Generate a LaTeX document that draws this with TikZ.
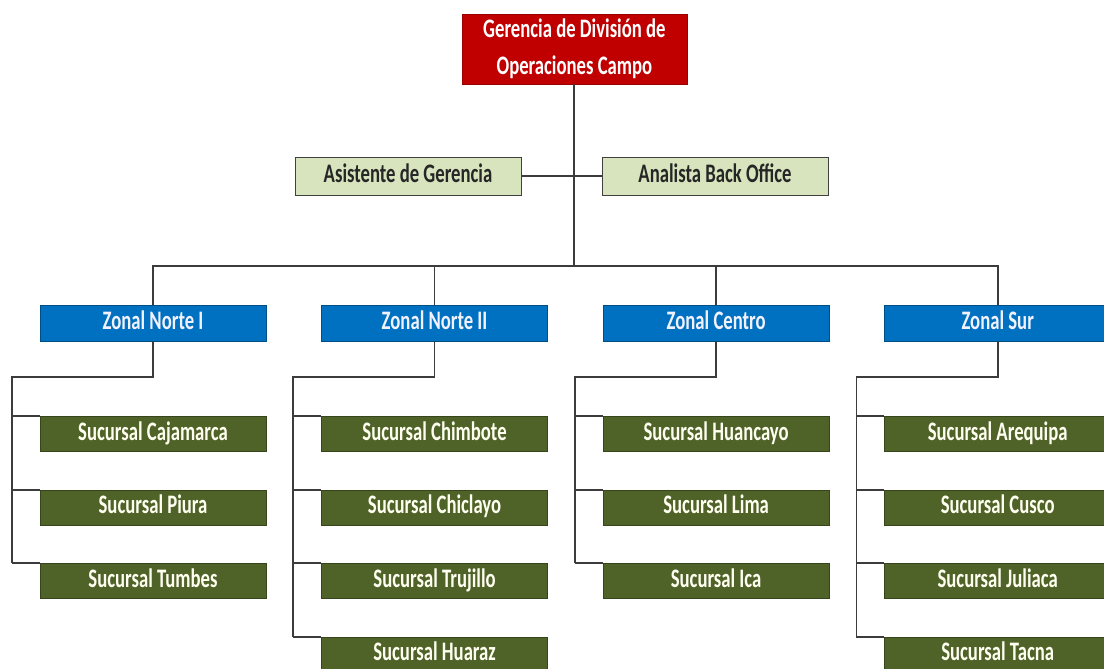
\documentclass[tikz,border=0pt]{standalone}
\usepackage{fontspec}
\setmainfont[FakeStretch=0.7]{Carlito}
\usetikzlibrary{positioning}
\definecolor{rojoger}{HTML}{C00000}
\definecolor{verdeclaro}{HTML}{D7E4BD}
\definecolor{azulzona}{HTML}{0070C0}
\definecolor{verdesuc}{HTML}{4F6228}
\definecolor{linea}{HTML}{3C3C3C}
\tikzstyle{gerencia} = [rectangle, minimum width=5.625cm, minimum height=1.75cm, align=center, text centered, draw=rojoger!80!black, fill=rojoger, text=white, font=\fontsize{19}{26}\selectfont\bfseries]
\tikzstyle{apoyo} = [rectangle, minimum width=5.65cm, minimum height=0.95cm, text centered, draw=black!75, fill=verdeclaro, text=black!85, text height=1.9ex, text depth=0.1ex]
\tikzstyle{zonal} = [rectangle, minimum width=5.65cm, minimum height=0.9cm, text centered, draw=azulzona!70!black, fill=azulzona, text=blue!5, text height=1.9ex, text depth=0.1ex]
\tikzstyle{sucursal} = [rectangle, minimum width=5.65cm, minimum height=0.875cm, text centered, draw=verdesuc!70!black, fill=verdesuc, text=green!4!yellow!6, text height=1.9ex, text depth=0.1ex]
\tikzstyle{conector} = [line width=1.3pt, draw=linea]

\begin{document}
\begin{tikzpicture}[every node/.style={font=\fontsize{19}{24}\selectfont\bfseries, inner sep=0pt}]

\useasboundingbox [fill=white] (0,0) rectangle (27.6,-16.725);

% gerencia y apoyo
\node (ger) [gerencia] at (14.36,-1.225) {Gerencia de División de\\Operaciones Campo};
\node (asis) [apoyo] at (10.2,-4.4) {Asistente de Gerencia};
\node (anal) [apoyo] at (17.875,-4.4) {Analista Back Office};

% zonales
\node (zn1) [zonal] at (3.825,-8.075) {Zonal Norte I};
\node (zn2) [zonal, right=1.375cm of zn1] {Zonal Norte II};
\node (zn3) [zonal, right=1.375cm of zn2] {Zonal Centro};
\node (zn4) [zonal, right=1.375cm of zn3] {Zonal Sur};

% sucursales
\node (caj) [sucursal, below=1.875cm of zn1] {Sucursal Cajamarca};
\node (piu) [sucursal, below=0.95cm of caj] {Sucursal Piura};
\node (tum) [sucursal, below=0.95cm of piu] {Sucursal Tumbes};

\node (chim) [sucursal, below=1.875cm of zn2] {Sucursal Chimbote};
\node (chic) [sucursal, below=0.95cm of chim] {Sucursal Chiclayo};
\node (tru) [sucursal, below=0.95cm of chic] {Sucursal Trujillo};
\node (hua) [sucursal, below=0.95cm of tru] {Sucursal Huaraz};

\node (huan) [sucursal, below=1.875cm of zn3] {Sucursal Huancayo};
\node (lima) [sucursal, below=0.95cm of huan] {Sucursal Lima};
\node (ica) [sucursal, below=0.95cm of lima] {Sucursal Ica};

\node (areq) [sucursal, below=1.875cm of zn4] {Sucursal Arequipa};
\node (cus) [sucursal, below=0.95cm of areq] {Sucursal Cusco};
\node (jul) [sucursal, below=0.95cm of cus] {Sucursal Juliaca};
\node (tac) [sucursal, below=0.95cm of jul] {Sucursal Tacna};

% lineas
\coordinate (hub) at (14.36,-6.65);
\draw [conector] (ger.south) -- (hub);
\draw [conector] (asis.east) -- (anal.west);
\draw [conector] (zn1.north) |- (hub) -| (zn4.north);
\draw [conector] (zn2.north) -- (zn2.north |- hub);
\draw [conector] (zn3.north) -- (zn3.north |- hub);

\foreach \z/\u in {zn1/tum, zn2/hua, zn3/ica, zn4/tac}
  \draw [conector] (\z.south) -- ++(0,-0.9) -| ([xshift=-0.7cm]\u.north west);
\foreach \s in {caj, piu, tum, chim, chic, tru, hua, huan, lima, ica, areq, cus, jul, tac}
  \draw [conector] (\s.north west) -- ++(-0.7,0);

\end{tikzpicture}
\end{document}
